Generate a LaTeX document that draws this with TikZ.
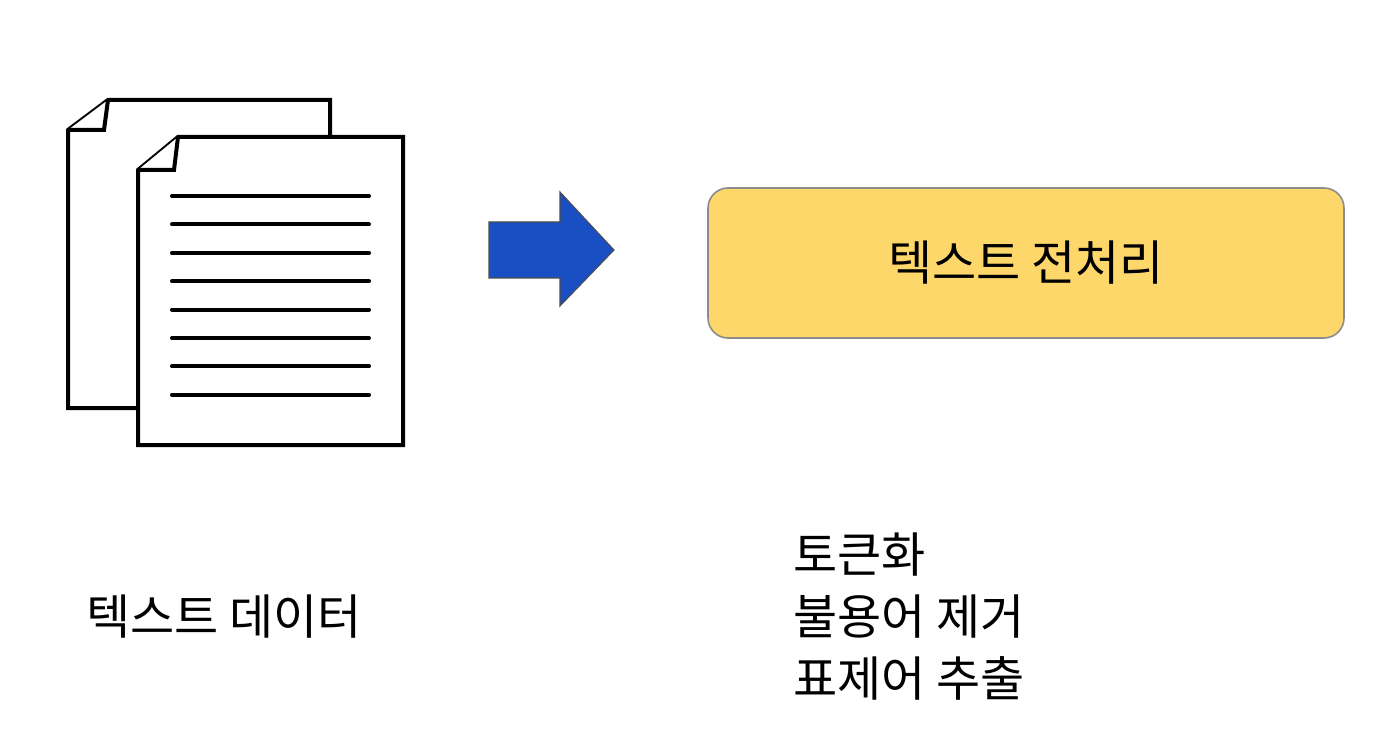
\documentclass[tikz,border=0pt]{standalone}
\usepackage{fontspec}
\newfontfamily\kr{Noto Sans CJK KR}
\begin{document}
\begin{tikzpicture}[x=0.75pt,y=-0.75pt,
  page/.style={draw=black,line width=3pt,fill=white,line join=miter},
  txtline/.style={line width=3pt,line cap=round},
  lbl/.style={font=\kr\fontsize{36}{54}\selectfont,anchor=west,inner sep=0pt}]
\useasboundingbox (0,0) rectangle (1399,752);
% back page
\draw[page] (108,100) -- (330,100) -- (330,408) -- (68,408) -- (68,130) -- cycle;
\draw[page] (68,130) -- (104,130) -- (108,100);
% front page
\draw[page] (178,137) -- (403,137) -- (403,445) -- (138,445) -- (138,170) -- cycle;
\draw[page] (138,170) -- (174,170) -- (178,137);
\foreach \i in {0,...,7}
  \draw[txtline] (172,{196+\i*28.4}) -- (369,{196+\i*28.4});
% arrow
\draw[draw=black!70,line width=0.8pt,fill={rgb,255:red,26;green,79;blue,196}]
  (489,222) -- (560,222) -- (560,192) -- (614,250) -- (560,306) -- (560,278) -- (489,278) -- cycle;
% box
\node[draw=black!45,line width=1.2pt,fill={rgb,255:red,253;green,215;blue,106},
  rounded corners=15pt,minimum width=636*0.75pt,minimum height=150*0.75pt,
  font=\kr\fontsize{36}{40}\selectfont] (box) at (1026,263) {텍스트 전처리};
\node[lbl] (data) at (86,617) {텍스트 데이터};
\node[lbl] (l1) at (793,555) {토큰화};
\node[lbl] (l2) at (793,617) {불용어 제거};
\node[lbl] (l3) at (793,678) {표제어 추출};
\end{tikzpicture}
\end{document}
